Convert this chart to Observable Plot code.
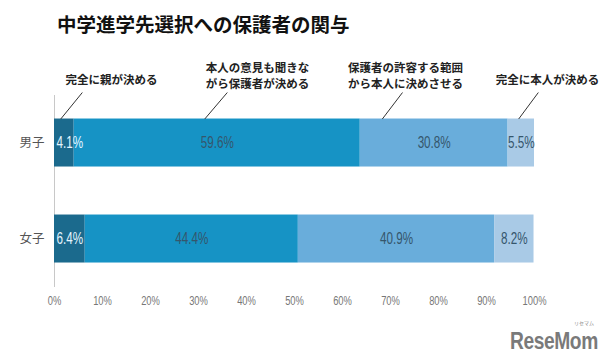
<!DOCTYPE html>
<html>
<head>
<meta charset="utf-8">
<script src="https://cdn.jsdelivr.net/npm/d3@7"></script>
<script src="https://cdn.jsdelivr.net/npm/@observablehq/plot@0.6"></script>
<style>
  html, body { margin: 0; padding: 0; background: #fff; }
  #wrap { position: relative; width: 608px; height: 360px; overflow: hidden; }
  #title { position: absolute; left: 57px; top: 9px; font-family: "Noto Sans CJK JP", sans-serif; font-size: 19.5px; font-weight: 700; color: #111; white-space: nowrap; }
  #chart { position: absolute; left: 0; top: 40px; }
  #logo { position: absolute; right: 10px; top: 328px; font-family: "Liberation Sans", "DejaVu Sans", sans-serif; font-weight: 700; font-size: 24px; line-height: 26px; color: #7a7a7a; letter-spacing: -0.5px; transform: scaleX(0.8); transform-origin: right center; }
  #logo-sub { position: absolute; right: 14px; top: 320px; font-family: "Noto Sans CJK JP", sans-serif; font-size: 5px; line-height: 6px; color: #888; }
</style>
</head>
<body>
<div id="wrap">
  <div id="title">中学進学先選択への保護者の関与</div>
  <div id="chart"></div>
  <div id="logo-sub">リセマム</div>
  <div id="logo">ReseMom</div>
</div>
<script>
const groups = ["男子", "女子"];
const categories = [
  "完全に親が決める",
  "本人の意見も聞きながら保護者が決める",
  "保護者の許容する範囲から本人に決めさせる",
  "完全に本人が決める"
];
const categoryLabels = [
  "完全に親が決める",
  "本人の意見も聞きな\nがら保護者が決める",
  "保護者の許容する範囲\nから本人に決めさせる",
  "完全に本人が決める"
];
const boys = [4.1, 59.6, 30.8, 5.5];
const girls = [6.4, 44.4, 40.9, 8.2];
const xTicks = [0, 10, 20, 30, 40, 50, 60, 70, 80, 90, 100];
const colors = ["#1b6a8d", "#1693c5", "#69addb", "#a9cae6"];

// annotation anchors (in percent along the 男子 bar)
const annLabelX = [11.9, 42.3, 73.1, 102.7];
const annLineBottomX = [1.3, 31.3, 68.3, 96.7];
const annLineTopX = [5.8, 36.0, 72.5, 100.8];

const sans = "'Liberation Sans', 'DejaVu Sans', sans-serif";
const cjk = "'Noto Sans CJK JP', sans-serif";

const series = [boys, girls];
const rows = groups.flatMap((g, i) => {
  let c = 0;
  return series[i].map((v, j) => {
    const x1 = c; c += v;
    return {group: g, row: i, category: categories[j], value: v, x1, x2: c, j};
  });
});

const ann = categoryLabels.map((t, j) => ({
  text: t,
  x: annLabelX[j],
  y: t.includes("\n") ? -0.708 : -0.672,
  xb: annLineBottomX[j],
  xt: annLineTopX[j]
}));

const chart = Plot.plot({
  width: 608,
  height: 320,
  marginLeft: 54,
  marginRight: 74,
  marginTop: 55,
  marginBottom: 73,
  x: {domain: [0, 100], label: null},
  y: {domain: [-0.495, 1.505], reverse: true, axis: null},
  color: {domain: categories, range: colors},
  style: {fontFamily: cjk, background: "transparent"},
  marks: [
    Plot.ruleX([0], {stroke: "#c8c8c8", strokeWidth: 1}),
    Plot.rect(rows, {x1: "x1", x2: "x2", y1: d => d.row - 0.25, y2: d => d.row + 0.25, fill: "category"}),
    Plot.text(rows.filter(d => d.j === 0), {x: "x1", y: "row", dx: 2, textAnchor: "start", text: d => d.value.toFixed(1) + "%", fill: "#e4f5ff", fontSize: 16, fontFamily: sans}),
    Plot.text(rows.filter(d => d.j > 0), {x: d => (d.x1 + d.x2) / 2, y: "row", text: d => d.value.toFixed(1) + "%", fill: "#35566c", fontSize: 16, fontFamily: sans}),
    Plot.text(groups, {x: 0, y: (d, i) => i, dx: -10, textAnchor: "end", text: d => d, fill: "#555", fontSize: 12.5, fontFamily: cjk}),
    Plot.link(ann, {x1: "xb", y1: -0.25, x2: "xt", y2: -0.526, stroke: "#333", strokeWidth: 1}),
    Plot.text(ann, {x: "x", y: "y", text: "text", fill: "#222", fontSize: 11.5, fontWeight: 700, fontFamily: cjk, lineHeight: 1.39}),
    Plot.axisX({ticks: xTicks, tickFormat: d => d + "%", tickSize: 0, tickPadding: 9, fontSize: 12, color: "#777", fontFamily: sans, label: null})
  ]
});
document.getElementById("chart").appendChild(chart);

// condense the numeric labels horizontally (narrow look of the original)
d3.select(chart).selectAll("text").each(function() {
  const t = this.textContent;
  if (/%$/.test(t) && this.getComputedTextLength) {
    const w = this.getComputedTextLength();
    const ratio = /^\d+%$/.test(t) ? 0.78 : 0.73;
    this.setAttribute("textLength", (w * ratio).toFixed(2));
    this.setAttribute("lengthAdjust", "spacingAndGlyphs");
  }
});
</script>
</body>
</html>
